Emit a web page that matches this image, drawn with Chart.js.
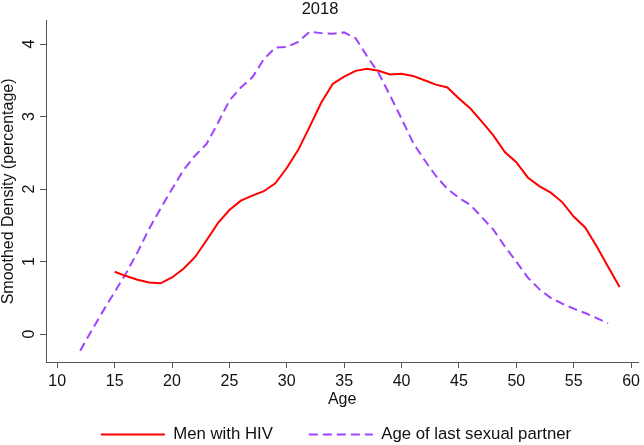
<!DOCTYPE html>
<html>
<head>
<meta charset="utf-8">
<script src="https://cdn.jsdelivr.net/npm/chart.js@4.4.0/dist/chart.umd.min.js"></script>
<style>
  html, body { margin: 0; padding: 0; background: #fff; }
  #wrap { width: 644px; height: 445px; }
</style>
</head>
<body>
<div id="wrap"><canvas id="chart" width="644" height="445"></canvas></div>
<script>
// data
const hivAges = [15,16,17,18,19,20,21,22,23,24,25,26,27,28,29,30,31,32,33,34,35,36,37,
  38,39,40,41,42,43,44,45,46,47,48,49,50,51,52,53,54,55,56,57,58,59];
const hivDensity = [0.86,0.80,0.75,0.71,0.70,0.78,0.90,1.06,1.29,1.53,1.71,1.84,1.91,1.97,2.08,2.29,2.54,2.86,3.19,3.45,3.55,3.63,3.66,
  3.63,3.58,3.59,3.56,3.50,3.44,3.40,3.25,3.11,2.93,2.74,2.51,2.37,2.16,2.04,1.95,1.82,1.62,1.47,1.21,0.93,0.65];

const partnerAges = [12,13,14,15,16,17,18,19,20,21,22,23,24,25,26,27,28,29,30,31,32,33,34,35,
  36,37,38,39,40,41,42,43,44,45,46,47,48,49,50,51,52,53,54,55,56,57,58];
const partnerDensity = [-0.23,0.05,0.32,0.58,0.84,1.13,1.45,1.73,2.00,2.26,2.46,2.62,2.91,3.22,3.40,3.54,3.79,3.95,3.96,4.03,4.17,4.15,4.14,4.16,
  4.08,3.83,3.60,3.29,2.97,2.64,2.40,2.18,2.00,1.88,1.78,1.61,1.44,1.21,1.00,0.78,0.62,0.50,0.42,0.35,0.29,0.22,0.15];

const xTicks = [10,15,20,25,30,35,40,45,50,55,60];
const yTicks = [0,1,2,3,4];

const family = '"Liberation Sans", Arial, Helvetica, sans-serif';
const font = { family: family, size: 16, weight: 'normal' };
const ink = '#111';
const axisGrey = '#555';

const toPoints = (xs, ys) => xs.map((x, i) => ({ x: x, y: ys[i] }));

// legend uses the point style, so take dash/width from the dataset line instead
const legendLabels = chart =>
  Chart.defaults.plugins.legend.labels.generateLabels(chart).map((item, i) => {
    const ds = chart.data.datasets[i];
    item.lineDash = ds.borderDash || [];
    item.lineWidth = ds.borderWidth;
    item.strokeStyle = ds.borderColor;
    return item;
  });

// the legend sits a bit right of the canvas centre in the original
const nudgeLegend = {
  id: 'nudgeLegend',
  afterLayout(chart) {
    const lg = chart.legend;
    if (!lg) return;
    lg.left += 16;
    lg.right += 16;
  }
};

new Chart(document.getElementById('chart').getContext('2d'), {
  type: 'line',
  data: {
    datasets: [{
      label: 'Men with HIV',
      data: toPoints(hivAges, hivDensity),
      borderColor: '#ff0000',
      backgroundColor: '#ff0000',
      borderWidth: 2,
      pointRadius: 0,
      tension: 0
    }, {
      label: 'Age of last sexual partner',
      data: toPoints(partnerAges, partnerDensity),
      borderColor: '#9b45ff',
      backgroundColor: '#9b45ff',
      borderWidth: 2,
      borderDash: [9, 5],
      pointRadius: 0,
      tension: 0
    }]
  },
  plugins: [nudgeLegend],
  options: {
    responsive: false,
    animation: false,
    devicePixelRatio: 1,
    layout: { padding: { left: 0, right: 4, top: 0, bottom: 0 } },
    plugins: {
      title: {
        display: true, text: '2018', color: ink,
        font: { family: family, size: 16.5, weight: 'normal' },
        padding: { top: 0, bottom: 1 }
      },
      legend: {
        position: 'bottom',
        maxHeight: 55,
        labels: {
          usePointStyle: true,
          pointStyle: 'line',
          pointStyleWidth: 64,
          padding: 36,
          color: ink,
          font: { family: family, size: 16.75, weight: 'normal' },
          generateLabels: legendLabels
        }
      },
      tooltip: { enabled: false }
    },
    scales: {
      x: {
        type: 'linear',
        min: 9.02, max: 60.63,
        afterBuildTicks: s => { s.ticks = xTicks.map(v => ({ value: v })); },
        afterFit: s => { s.height = 28; },
        grid: { drawOnChartArea: false, tickLength: 6, color: axisGrey },
        border: { color: axisGrey },
        ticks: { color: ink, font: font, padding: 4, maxRotation: 0 },
        title: { display: true, text: 'Age', color: ink, font: font, padding: { top: 0, bottom: -19.5 } }
      },
      y: {
        type: 'linear',
        min: -0.385, max: 4.32,
        afterBuildTicks: s => { s.ticks = yTicks.map(v => ({ value: v })); },
        afterFit: s => { s.width = 46; },
        grid: { drawOnChartArea: false, tickLength: 6, color: axisGrey },
        border: { color: axisGrey },
        ticks: { color: ink, font: font, padding: 6, minRotation: 90, maxRotation: 90, crossAlign: 'center' },
        title: {
          display: true, text: 'Smoothed Density (percentage)', color: ink,
          font: Object.assign({}, font, { lineHeight: 1.1 }),
          padding: 0
        }
      }
    }
  }
});
</script>
</body>
</html>
